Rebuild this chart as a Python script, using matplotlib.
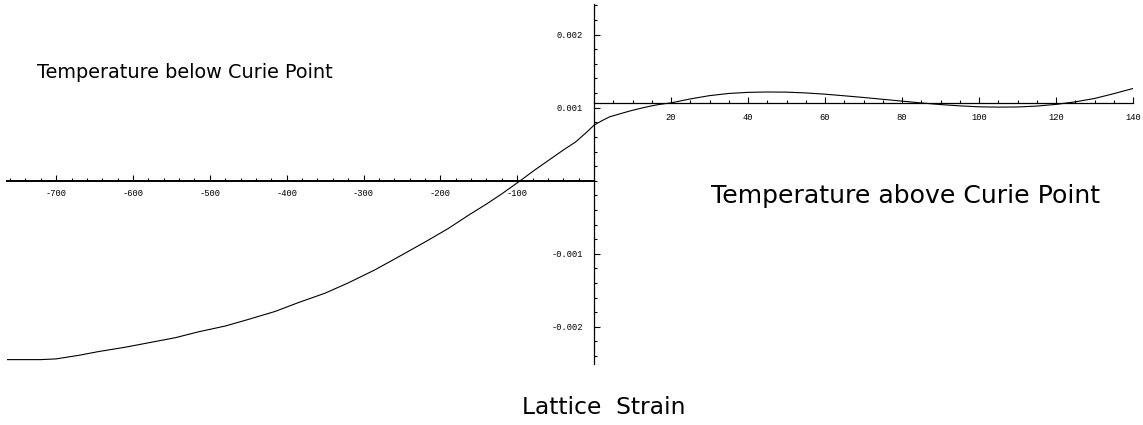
import matplotlib
matplotlib.use("Agg")
import matplotlib.pyplot as plt
from matplotlib.ticker import MultipleLocator, FixedLocator

# ---- data: below Curie point (main panel) ----
left_x = [-764, -740, -720, -700, -670, -645, -610, -580, -545, -515, -480, -450, -415,
          -385, -350, -320, -285, -254, -220, -189, -163, -140, -120, -96, -78, -59,
          -40, -24, -10, 0]
left_y = [-0.00245, -0.00245, -0.00245, -0.00244, -0.00239, -0.00234, -0.00228, -0.00222,
          -0.00215, -0.00207, -0.00199, -0.00190, -0.00179, -0.00167, -0.00154, -0.00140,
          -0.00122, -0.00104, -0.00084, -0.00065, -0.00047, -0.00032, -0.00018, 0.0,
          0.00014, 0.00028, 0.00042, 0.00053, 0.00066, 0.00076]

# ---- data: above Curie point (inset panel) ----
right_x = [0, 2, 4, 7, 9.4, 12, 14.5, 17, 20, 25, 30, 35, 40, 45, 50, 55, 60, 65, 70,
           75, 80, 85, 90, 95, 100, 105, 110, 115, 120, 125, 130, 135, 140]
right_y = [0.00076, 0.00082, 0.000874, 0.00092, 0.000956, 0.00099, 0.00102, 0.001045,
           0.001066, 0.00112, 0.001165, 0.001195, 0.00121, 0.001215, 0.001213, 0.001202,
           0.001185, 0.001163, 0.00114, 0.001115, 0.00109, 0.001065, 0.001043, 0.001025,
           0.001012, 0.001008, 0.00101, 0.001022, 0.001045, 0.00108, 0.001126, 0.001192,
           0.001263]
inset_axis_y = 0.001066

main_xticks = [-700, -600, -500, -400, -300, -200, -100]
main_yticks = [-0.002, -0.001, 0.001, 0.002]
inset_xticks = [20, 40, 60, 80, 100, 120, 140]

title_left = "Temperature below Curie Point"
title_right = "Temperature above Curie Point"
xlabel = "Lattice  Strain"

W, H = 1143, 425
fig = plt.figure(figsize=(W / 100, H / 100), dpi=100)

ylim = (-0.00251, 0.00242)
top_px, bot_px = 4, 364
ax_b = (H - bot_px) / H
ax_h = (bot_px - top_px) / H

tick_font = dict(family=["Liberation Mono", "DejaVu Sans Mono"], size=6.3)

# main axes
ax = fig.add_axes([7 / W, ax_b, (594 - 7) / W, ax_h])
ax.set_xlim(-764, 0)
ax.set_ylim(*ylim)
ax.patch.set_alpha(0)
ax.plot(left_x, left_y, color="black", lw=0.8, solid_joinstyle="round")
for s in ["top", "right"]:
    ax.spines[s].set_visible(False)
ax.spines["bottom"].set_position(("data", 0))
ax.spines["bottom"].set_linewidth(1.4)
ax.spines["left"].set_position(("data", 0))
ax.spines["left"].set_linewidth(0.9)
ax.xaxis.set_major_locator(FixedLocator(main_xticks))
ax.xaxis.set_minor_locator(MultipleLocator(20))
ax.yaxis.set_major_locator(FixedLocator(main_yticks))
ax.yaxis.set_minor_locator(MultipleLocator(0.0002))
ax.set_xticklabels([f"-{abs(v)}" for v in main_xticks], **tick_font)
ax.set_yticklabels([("-" if v < 0 else "") + f"{abs(v):.3f}" for v in main_yticks], **tick_font)
ax.tick_params(axis="both", which="major", direction="in", length=4, width=0.8, pad=6)
ax.tick_params(axis="both", which="minor", direction="in", length=2.5, width=0.8)
ax.tick_params(axis="y", which="major", pad=8)

# inset axes
ax2 = fig.add_axes([594 / W, ax_b, (1133 - 594) / W, ax_h])
ax2.set_xlim(0, 140)
ax2.set_ylim(*ylim)
ax2.patch.set_alpha(0)
ax2.plot(right_x, right_y, color="black", lw=0.8, solid_joinstyle="round")
for s in ["top", "right", "left"]:
    ax2.spines[s].set_visible(False)
ax2.spines["bottom"].set_position(("data", inset_axis_y))
ax2.spines["bottom"].set_linewidth(0.9)
ax2.xaxis.set_major_locator(FixedLocator(inset_xticks))
ax2.xaxis.set_minor_locator(MultipleLocator(5))
ax2.set_xticklabels([str(v) for v in inset_xticks], **tick_font)
ax2.set_yticks([])
ax2.tick_params(axis="x", which="major", direction="in", length=4, width=0.8, pad=7)
ax2.tick_params(axis="x", which="minor", direction="in", length=2.5, width=0.8)

# texts
fig.text(37 / W, 1 - 72 / H, title_left, fontsize=13.9, ha="left", va="center",
         family="DejaVu Sans")
fig.text(711 / W, 1 - 196 / H, title_right, fontsize=18.1, ha="left", va="center",
         family="DejaVu Sans")
fig.text(604 / W, 1 - 407 / H, xlabel, fontsize=16.8, ha="center", va="center",
         family="DejaVu Sans")

fig.savefig("out.png", dpi=100)
